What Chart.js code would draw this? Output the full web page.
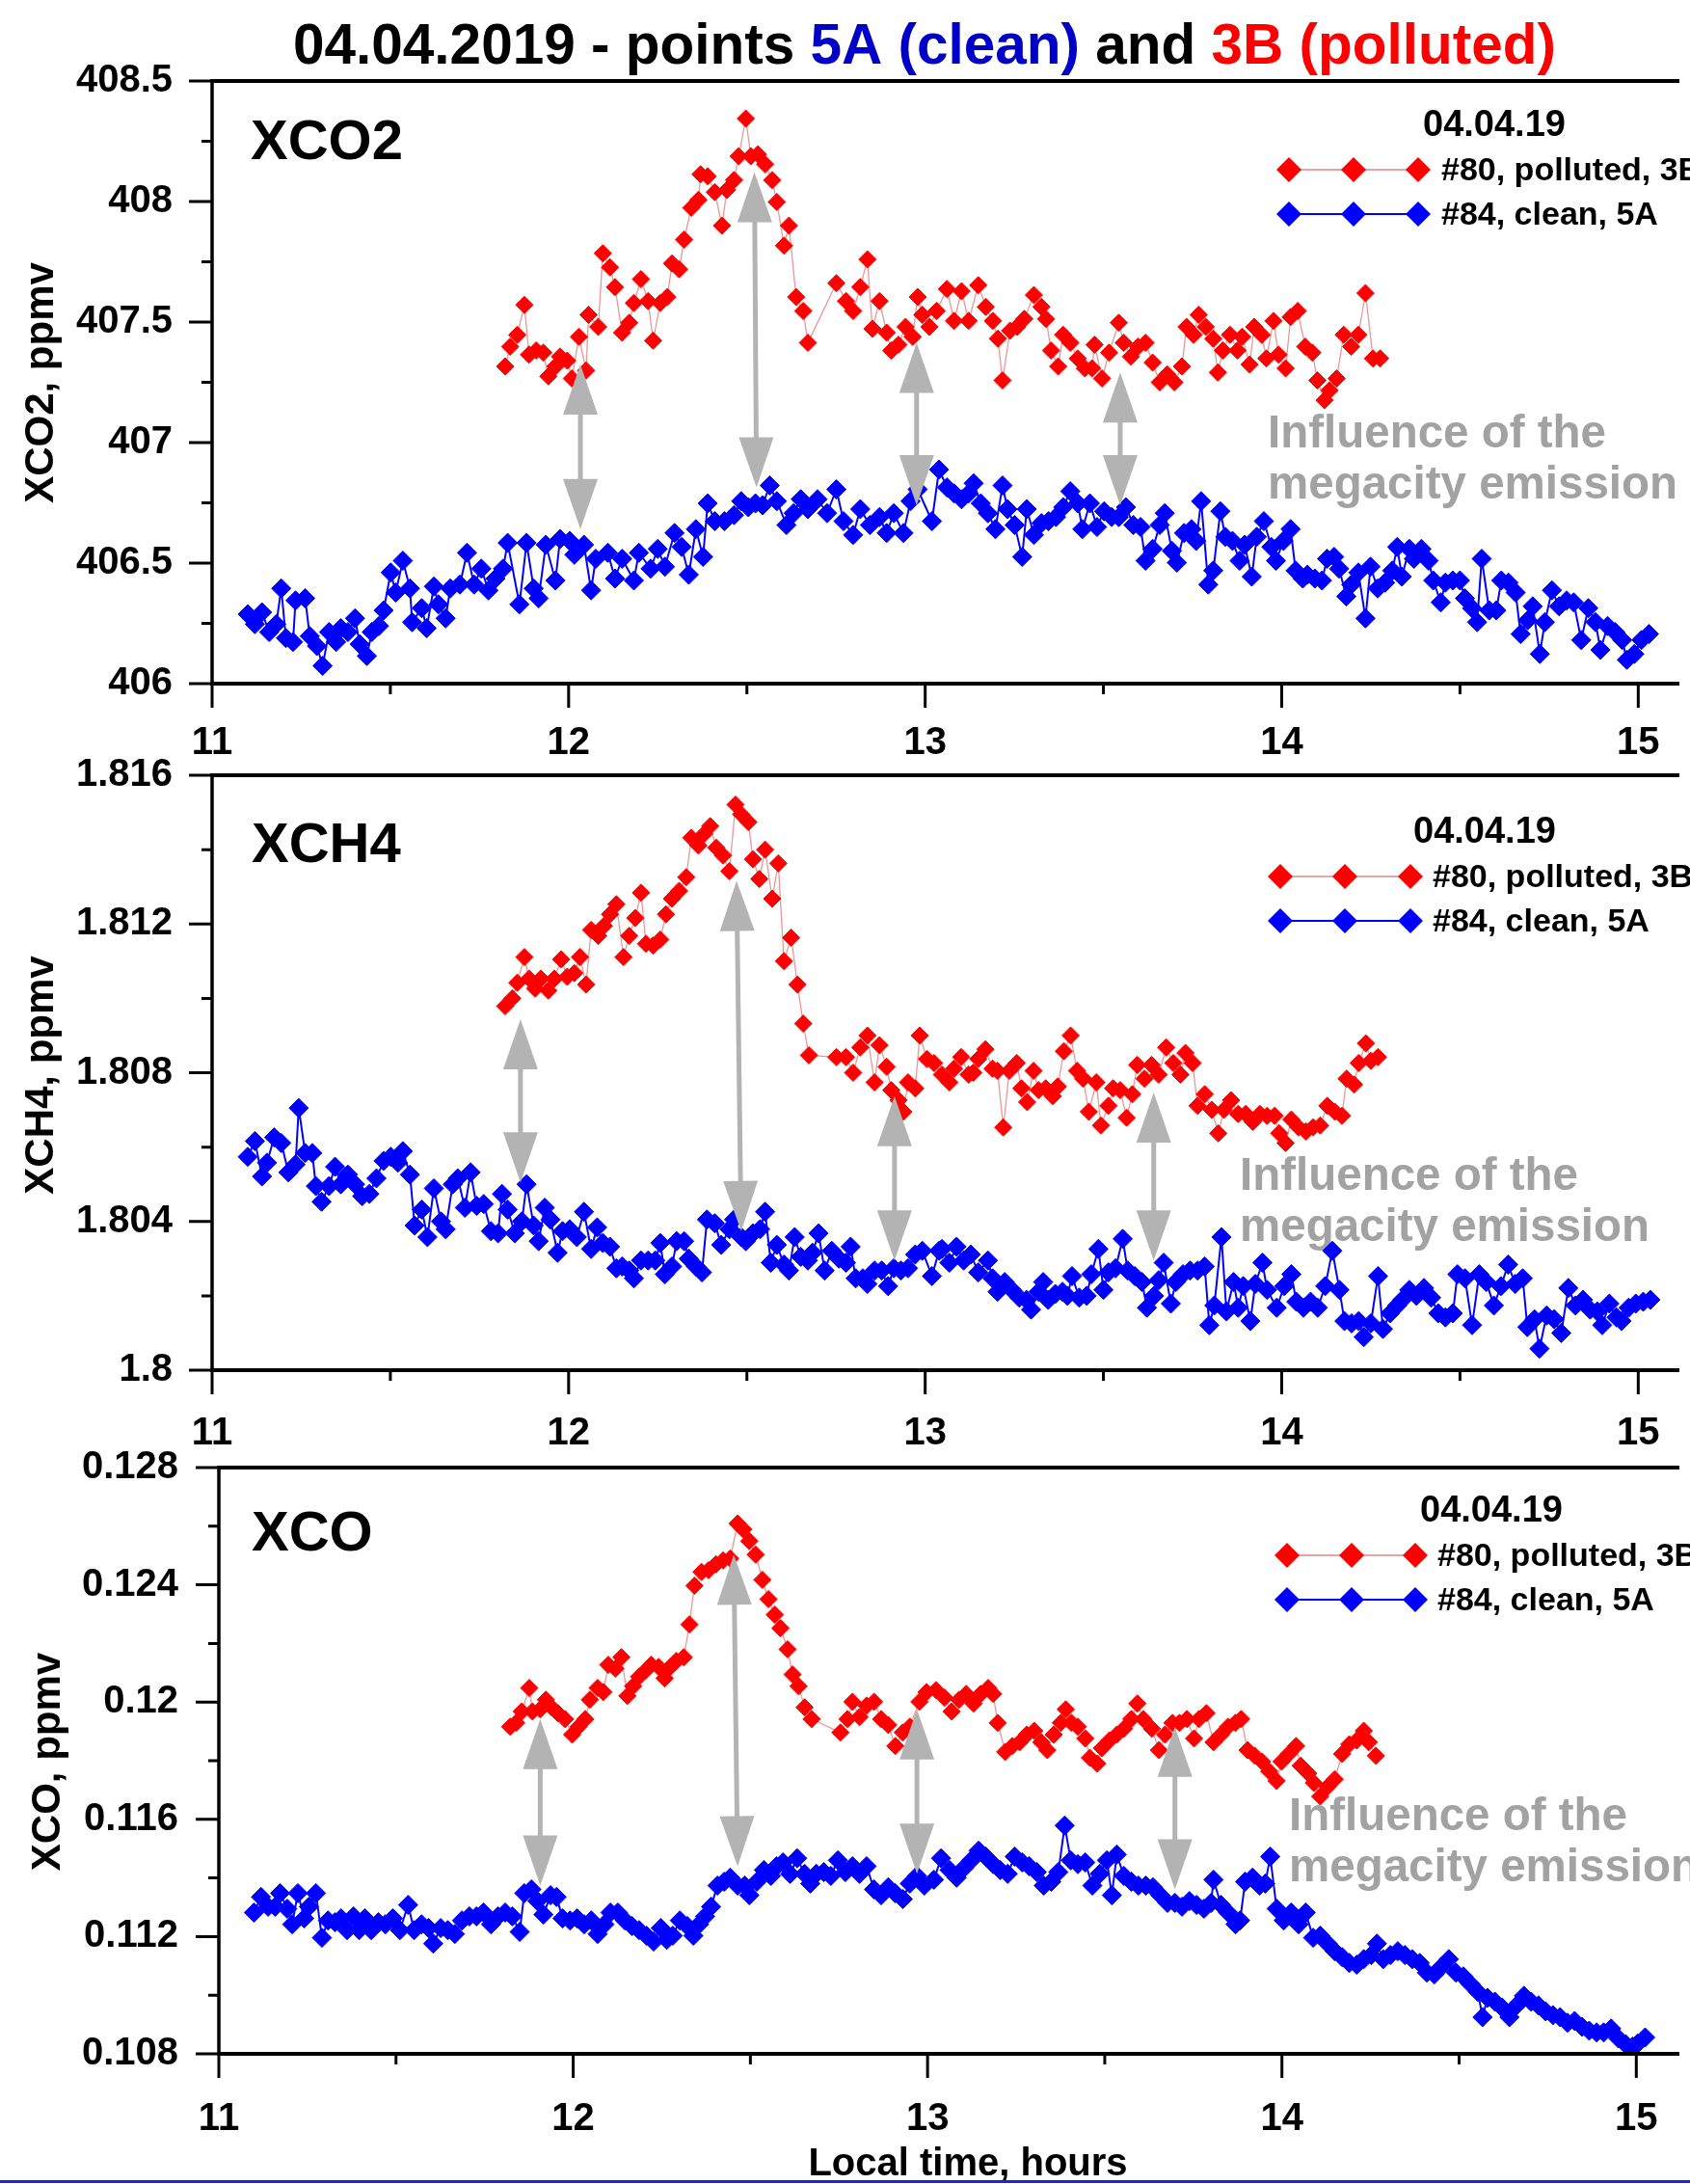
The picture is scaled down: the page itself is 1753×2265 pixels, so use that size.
<!DOCTYPE html>
<html>
<head>
<meta charset="utf-8">
<script src="https://cdn.jsdelivr.net/npm/chart.js@4/dist/chart.umd.min.js"></script>
<style>
  html, body { margin: 0; padding: 0; background: #fff; }
  #wrap { position: relative; width: 1753px; height: 2265px; overflow: hidden; background: #fff; }
  canvas { position: absolute; left: 0; }
</style>
</head>
<body>
<div id="wrap">
  <canvas id="c1" width="1753" height="782" style="top:0px"></canvas>
  <canvas id="c2" width="1753" height="718" style="top:782px"></canvas>
  <canvas id="c3" width="1753" height="765" style="top:1500px"></canvas>
</div>
<script>
'use strict';

// ---- data: [local time (h), value (ppmv)] ----
var co2Clean = [[11.100,406.288],[11.120,406.247],[11.140,406.296],[11.160,406.214],[11.180,406.247],[11.194,406.395],[11.207,406.189],[11.227,406.173],[11.234,406.345],[11.261,406.354],[11.274,406.197],[11.294,406.156],[11.310,406.074],[11.328,406.214],[11.348,406.173],[11.361,406.230],[11.381,406.214],[11.401,406.271],[11.414,406.164],[11.434,406.115],[11.448,406.214],[11.468,406.239],[11.481,406.304],[11.501,406.461],[11.515,406.378],[11.535,406.510],[11.555,406.395],[11.561,406.255],[11.588,406.313],[11.602,406.230],[11.622,406.403],[11.635,406.329],[11.655,406.271],[11.668,406.395],[11.695,406.411],[11.715,406.543],[11.735,406.411],[11.755,406.477],[11.775,406.387],[11.795,406.436],[11.816,406.477],[11.829,406.584],[11.862,406.329],[11.882,406.584],[11.902,406.395],[11.916,406.354],[11.936,406.576],[11.963,406.428],[11.976,406.600],[12.003,406.592],[12.016,406.535],[12.043,406.576],[12.063,406.387],[12.076,406.518],[12.110,406.543],[12.130,406.436],[12.150,406.518],[12.183,406.428],[12.197,406.543],[12.230,406.477],[12.250,406.559],[12.270,406.485],[12.297,406.625],[12.317,406.567],[12.337,406.452],[12.357,406.641],[12.377,406.526],[12.390,406.748],[12.410,406.674],[12.437,406.674],[12.464,406.699],[12.484,406.757],[12.504,406.732],[12.524,406.748],[12.544,406.740],[12.564,406.822],[12.584,406.757],[12.611,406.658],[12.631,406.707],[12.651,406.765],[12.671,406.724],[12.698,406.765],[12.725,406.707],[12.751,406.806],[12.771,406.674],[12.798,406.617],[12.818,406.724],[12.845,406.658],[12.872,406.691],[12.892,406.625],[12.912,406.707],[12.939,406.625],[12.959,406.757],[12.979,406.806],[13.019,406.674],[13.039,406.888],
  [13.061,406.814],[13.081,406.789],[13.102,406.765],[13.122,406.789],[13.136,406.831],[13.156,406.748],[13.176,406.707],[13.197,406.641],[13.217,406.822],[13.231,406.724],[13.251,406.658],[13.272,406.526],[13.285,406.724],[13.305,406.617],[13.326,406.666],[13.346,406.674],[13.367,406.691],[13.387,406.732],[13.407,406.798],[13.428,406.748],[13.441,406.641],[13.462,406.748],[13.482,406.650],[13.502,406.715],[13.523,406.691],[13.543,406.691],[13.563,406.732],[13.584,406.658],[13.604,406.650],[13.618,406.510],[13.638,406.559],[13.658,406.658],[13.672,406.707],[13.692,406.551],[13.706,406.502],[13.726,406.625],[13.747,406.641],[13.760,406.592],[13.774,406.757],[13.794,406.411],[13.808,406.469],[13.828,406.715],[13.842,406.609],[13.862,406.592],[13.882,406.510],[13.896,406.576],[13.916,406.444],[13.930,406.609],[13.950,406.674],[13.971,406.567],[13.984,406.510],[14.005,406.592],[14.025,406.641],[14.039,406.469],[14.059,406.436],[14.072,406.452],[14.093,406.436],[14.113,406.428],[14.127,406.518],[14.147,406.526],[14.161,406.477],[14.181,406.362],[14.195,406.411],[14.215,406.461],[14.235,406.271],[14.249,406.485],[14.269,406.395],[14.290,406.419],[14.310,406.469],[14.324,406.567],[14.337,406.444],[14.358,406.559],[14.371,406.518],[14.392,406.559],[14.412,406.510],[14.425,406.428],[14.446,406.337],[14.459,406.419],[14.480,406.428],[14.500,406.428],[14.514,406.354],[14.534,406.313],[14.548,406.255],[14.561,406.518],[14.582,406.304],[14.602,406.304],[14.616,406.428],[14.636,406.419],[14.656,406.378],[14.670,406.206],[14.690,406.263],[14.704,406.321],[14.724,406.123],[14.738,406.255],[14.758,406.387],[14.778,406.321],[14.799,406.345],[14.819,406.337],[14.840,406.181],[14.860,406.313],[14.880,406.255],[14.894,406.140],[14.914,406.239],[14.935,406.214],[14.955,406.181],[14.968,406.099],[14.989,406.123],[15.009,406.181],[15.030,406.206]];

var co2Polluted = [[11.822,407.316],[11.836,407.398],[11.856,407.447],[11.876,407.571],[11.889,407.365],[11.909,407.382],[11.929,407.373],[11.943,407.275],[11.963,407.316],[11.976,407.357],[11.996,407.340],[12.009,407.266],[12.029,407.439],[12.049,407.299],[12.056,407.530],[12.083,407.480],[12.096,407.785],[12.116,407.727],[12.130,407.645],[12.150,407.456],[12.170,407.497],[12.183,407.579],[12.203,407.678],[12.223,407.587],[12.237,407.423],[12.257,407.579],[12.277,407.604],[12.290,407.743],[12.310,407.719],[12.324,407.842],[12.344,407.974],[12.364,408.007],[12.370,408.113],[12.390,408.105],[12.410,408.039],[12.430,407.900],[12.444,408.048],[12.464,408.089],[12.477,408.188],[12.497,408.344],[12.511,408.188],[12.531,408.196],[12.551,408.155],[12.571,408.089],[12.584,407.998],[12.604,407.817],[12.618,407.900],[12.638,407.604],[12.658,407.546],[12.671,407.414],[12.751,407.661],[12.778,407.587],[12.798,407.546],[12.818,407.645],[12.838,407.760],[12.852,407.472],[12.872,407.587],[12.892,407.456],[12.905,407.382],[12.925,407.406],[12.945,407.480],[12.965,407.439],[12.979,407.604],[12.992,407.530],[13.012,407.480],[13.032,407.546],
  [13.061,407.637],[13.081,407.505],[13.102,407.628],[13.122,407.505],[13.149,407.653],[13.170,407.563],[13.190,407.505],[13.204,407.431],[13.217,407.258],[13.238,407.464],[13.258,407.480],[13.278,407.513],[13.305,407.612],[13.326,407.563],[13.339,407.513],[13.353,407.382],[13.373,407.316],[13.387,407.447],[13.407,407.414],[13.428,407.349],[13.448,407.308],[13.468,407.308],[13.475,407.406],[13.496,407.266],[13.516,407.373],[13.543,407.497],[13.557,407.414],[13.577,407.357],[13.597,407.398],[13.618,407.414],[13.638,407.332],[13.658,407.250],[13.679,407.283],[13.699,407.250],[13.720,407.316],[13.733,407.480],[13.753,407.447],[13.767,407.530],[13.787,407.480],[13.808,407.431],[13.821,407.291],[13.835,407.382],[13.855,407.447],[13.876,407.382],[13.889,407.439],[13.910,407.324],[13.923,407.480],[13.944,407.447],[13.957,407.349],[13.977,407.505],[13.991,407.365],[14.011,407.308],[14.025,407.521],[14.045,407.546],[14.066,407.398],[14.086,407.373],[14.100,407.258],[14.120,407.176],[14.134,407.217],[14.154,407.266],[14.174,407.447],[14.195,407.398],[14.215,407.447],[14.235,407.620],[14.256,407.349],[14.276,407.349]];

var ch4Clean = [[11.100,1.80574],[11.120,1.80616],[11.140,1.80521],[11.154,1.80558],[11.174,1.80626],[11.194,1.80611],[11.214,1.80532],[11.234,1.80553],[11.243,1.80705],[11.261,1.80584],[11.281,1.80584],[11.291,1.80495],[11.307,1.80453],[11.328,1.80495],[11.345,1.80547],[11.361,1.80500],[11.381,1.80526],[11.401,1.80500],[11.421,1.80468],[11.441,1.80474],[11.461,1.80516],[11.481,1.80563],[11.501,1.80574],[11.521,1.80558],[11.535,1.80589],[11.555,1.80526],[11.568,1.80389],[11.588,1.80432],[11.604,1.80358],[11.622,1.80489],[11.642,1.80400],[11.655,1.80379],[11.675,1.80500],[11.689,1.80516],[11.709,1.80437],[11.725,1.80532],[11.742,1.80442],[11.762,1.80447],[11.782,1.80374],[11.802,1.80368],[11.813,1.80474],[11.829,1.80432],[11.849,1.80368],[11.869,1.80400],[11.882,1.80500],[11.902,1.80389],[11.916,1.80347],[11.933,1.80437],[11.949,1.80405],[11.969,1.80316],[11.983,1.80374],[12.003,1.80379],[12.023,1.80358],[12.043,1.80426],[12.063,1.80326],[12.080,1.80384],[12.096,1.80342],[12.116,1.80332],[12.134,1.80274],[12.150,1.80279],[12.170,1.80268],[12.183,1.80247],[12.203,1.80295],[12.223,1.80295],[12.243,1.80295],[12.257,1.80342],[12.270,1.80258],[12.290,1.80279],[12.303,1.80347],[12.324,1.80347],[12.337,1.80300],[12.357,1.80279],[12.374,1.80263],[12.388,1.80405],[12.410,1.80395],[12.428,1.80337],[12.451,1.80379],[12.464,1.80405],[12.484,1.80358],[12.497,1.80347],[12.517,1.80368],[12.537,1.80379],[12.551,1.80426],[12.567,1.80289],[12.584,1.80337],[12.604,1.80284],[12.618,1.80268],[12.634,1.80358],[12.651,1.80305],[12.671,1.80295],[12.684,1.80316],[12.701,1.80368],[12.718,1.80268],[12.738,1.80321],[12.758,1.80300],[12.778,1.80289],[12.791,1.80332],[12.805,1.80247],[12.825,1.80247],[12.838,1.80232],[12.858,1.80268],[12.878,1.80268],[12.896,1.80226],[12.912,1.80274],[12.932,1.80268],[12.952,1.80274],[12.972,1.80311],[12.992,1.80321],[13.019,1.80253],[13.039,1.80321],
  [13.047,1.80326],[13.068,1.80289],[13.088,1.80332],[13.108,1.80295],[13.128,1.80311],[13.149,1.80263],[13.176,1.80295],[13.189,1.80247],[13.203,1.80211],[13.223,1.80237],[13.243,1.80216],[13.264,1.80195],[13.284,1.80189],[13.297,1.80163],[13.318,1.80211],[13.331,1.80237],[13.345,1.80189],[13.365,1.80205],[13.385,1.80211],[13.399,1.80200],[13.412,1.80253],[13.432,1.80195],[13.453,1.80200],[13.466,1.80258],[13.486,1.80326],[13.500,1.80216],[13.514,1.80263],[13.534,1.80274],[13.554,1.80353],[13.568,1.80268],[13.588,1.80253],[13.608,1.80237],[13.622,1.80168],[13.642,1.80200],[13.655,1.80242],[13.669,1.80289],[13.689,1.80179],[13.703,1.80237],[13.723,1.80258],[13.743,1.80268],[13.764,1.80268],[13.784,1.80279],[13.797,1.80121],[13.811,1.80174],[13.831,1.80358],[13.845,1.80158],[13.865,1.80237],[13.878,1.80168],[13.892,1.80226],[13.912,1.80132],[13.926,1.80232],[13.946,1.80289],[13.959,1.80216],[13.986,1.80168],[14.007,1.80226],[14.027,1.80258],[14.041,1.80184],[14.061,1.80168],[14.081,1.80184],[14.101,1.80168],[14.122,1.80226],[14.142,1.80321],[14.162,1.80216],[14.176,1.80132],[14.196,1.80126],[14.216,1.80132],[14.230,1.80089],[14.250,1.80126],[14.270,1.80253],[14.284,1.80111],[14.304,1.80153],[14.324,1.80174],[14.338,1.80189],[14.358,1.80216],[14.378,1.80200],[14.399,1.80221],[14.419,1.80195],[14.439,1.80153],[14.459,1.80142],[14.480,1.80153],[14.493,1.80258],[14.514,1.80247],[14.534,1.80121],[14.554,1.80258],[14.574,1.80237],[14.595,1.80174],[14.615,1.80226],[14.635,1.80284],[14.655,1.80232],[14.676,1.80247],[14.689,1.80116],[14.709,1.80137],[14.723,1.80058],[14.743,1.80147],[14.764,1.80137],[14.784,1.80100],[14.804,1.80221],[14.824,1.80174],[14.845,1.80189],[14.865,1.80163],[14.885,1.80158],[14.899,1.80121],[14.919,1.80179],[14.939,1.80142],[14.953,1.80132],[14.973,1.80168],[14.993,1.80179],[15.014,1.80184],[15.034,1.80189]];

var ch4Polluted = [[11.822,1.80979],[11.842,1.81000],[11.856,1.81042],[11.876,1.81111],[11.889,1.81053],[11.906,1.81026],[11.922,1.81053],[11.943,1.81021],[11.960,1.81053],[11.979,1.81105],[11.996,1.81058],[12.016,1.81068],[12.032,1.81111],[12.049,1.81037],[12.063,1.81184],[12.083,1.81168],[12.099,1.81195],[12.116,1.81226],[12.134,1.81253],[12.154,1.81111],[12.170,1.81168],[12.187,1.81216],[12.203,1.81284],[12.217,1.81147],[12.237,1.81142],[12.257,1.81158],[12.273,1.81226],[12.290,1.81268],[12.310,1.81289],[12.330,1.81326],[12.344,1.81432],[12.364,1.81411],[12.380,1.81442],[12.397,1.81463],[12.414,1.81405],[12.433,1.81384],[12.451,1.81342],[12.468,1.81521],[12.484,1.81495],[12.504,1.81474],[12.517,1.81374],[12.535,1.81321],[12.551,1.81400],[12.571,1.81268],[12.588,1.81363],[12.604,1.81100],[12.624,1.81163],[12.642,1.81037],[12.658,1.80932],[12.674,1.80847],[12.751,1.80842],[12.778,1.80842],[12.798,1.80800],[12.818,1.80868],[12.838,1.80900],[12.858,1.80774],[12.872,1.80874],[12.892,1.80816],[12.905,1.80753],[12.925,1.80726],[12.939,1.80695],[12.952,1.80774],[12.972,1.80758],[12.985,1.80900],[13.005,1.80837],[13.025,1.80826],
  [13.047,1.80795],[13.068,1.80774],[13.081,1.80811],[13.101,1.80842],[13.122,1.80795],[13.135,1.80800],[13.149,1.80837],[13.169,1.80863],[13.189,1.80811],[13.203,1.80805],[13.219,1.80653],[13.236,1.80805],[13.257,1.80826],[13.270,1.80758],[13.286,1.80721],[13.304,1.80805],[13.318,1.80753],[13.338,1.80758],[13.358,1.80737],[13.372,1.80763],[13.389,1.80858],[13.408,1.80900],[13.426,1.80805],[13.443,1.80784],[13.459,1.80695],[13.480,1.80774],[13.493,1.80658],[13.514,1.80711],[13.527,1.80758],[13.547,1.80753],[13.565,1.80679],[13.581,1.80742],[13.595,1.80821],[13.615,1.80784],[13.635,1.80821],[13.655,1.80795],[13.676,1.80868],[13.696,1.80826],[13.716,1.80795],[13.730,1.80853],[13.750,1.80826],[13.764,1.80711],[13.784,1.80742],[13.804,1.80700],[13.822,1.80637],[13.838,1.80700],[13.858,1.80726],[13.878,1.80689],[13.899,1.80689],[13.919,1.80668],[13.939,1.80689],[13.959,1.80684],[13.980,1.80684],[13.993,1.80637],[14.011,1.80611],[14.027,1.80674],[14.047,1.80653],[14.068,1.80642],[14.088,1.80653],[14.108,1.80658],[14.128,1.80711],[14.149,1.80695],[14.169,1.80684],[14.182,1.80784],[14.203,1.80768],[14.216,1.80826],[14.236,1.80879],[14.250,1.80832],[14.270,1.80842]];

var coClean = [[11.099,0.11282],[11.119,0.11335],[11.139,0.11302],[11.159,0.11302],[11.173,0.11348],[11.193,0.11295],[11.207,0.11242],[11.223,0.11348],[11.241,0.11262],[11.254,0.11302],[11.274,0.11348],[11.291,0.11196],[11.308,0.11255],[11.328,0.11249],[11.345,0.11262],[11.362,0.11222],[11.380,0.11269],[11.396,0.11222],[11.412,0.11262],[11.430,0.11222],[11.450,0.11249],[11.470,0.11242],[11.491,0.11262],[11.511,0.11222],[11.534,0.11308],[11.551,0.11222],[11.572,0.11242],[11.592,0.11229],[11.605,0.11176],[11.626,0.11229],[11.646,0.11222],[11.666,0.11209],[11.686,0.11255],[11.707,0.11269],[11.727,0.11269],[11.747,0.11282],[11.768,0.11242],[11.788,0.11269],[11.808,0.11282],[11.828,0.11269],[11.849,0.11216],[11.862,0.11348],[11.882,0.11361],[11.899,0.11321],[11.916,0.11275],[11.936,0.11341],[11.953,0.11335],[11.970,0.11262],[11.991,0.11255],[12.011,0.11262],[12.031,0.11242],[12.051,0.11255],[12.069,0.11209],[12.088,0.11242],[12.105,0.11282],[12.126,0.11282],[12.146,0.11255],[12.166,0.11236],[12.186,0.11222],[12.207,0.11203],[12.227,0.11183],[12.247,0.11229],[12.264,0.11189],[12.281,0.11203],[12.301,0.11255],[12.322,0.11236],[12.339,0.11203],[12.355,0.11242],[12.372,0.11269],[12.389,0.11302],[12.407,0.11374],[12.426,0.11387],[12.443,0.11401],[12.464,0.11374],[12.484,0.11374],[12.497,0.11341],[12.518,0.11387],[12.538,0.11427],[12.558,0.11407],[12.574,0.11440],[12.592,0.11453],[12.612,0.11414],[12.632,0.11467],[12.653,0.11414],[12.669,0.11381],[12.686,0.11414],[12.707,0.11420],[12.727,0.11407],[12.747,0.11460],[12.768,0.11420],[12.788,0.11440],[12.808,0.11414],[12.828,0.11440],[12.849,0.11361],[12.869,0.11341],[12.889,0.11368],[12.909,0.11348],[12.930,0.11328],[12.950,0.11381],[12.970,0.11407],[12.991,0.11374],[13.018,0.11394],[13.038,0.11467],
  [13.062,0.11427],[13.082,0.11401],[13.103,0.11434],[13.123,0.11460],[13.144,0.11493],[13.164,0.11473],[13.185,0.11447],[13.205,0.11427],[13.226,0.11414],[13.246,0.11473],[13.267,0.11453],[13.287,0.11440],[13.308,0.11420],[13.328,0.11374],[13.349,0.11387],[13.369,0.11420],[13.387,0.11579],[13.404,0.11460],[13.424,0.11447],[13.445,0.11453],[13.465,0.11374],[13.486,0.11414],[13.506,0.11460],[13.520,0.11341],[13.534,0.11480],[13.554,0.11407],[13.575,0.11387],[13.595,0.11374],[13.616,0.11374],[13.636,0.11368],[13.657,0.11341],[13.677,0.11315],[13.698,0.11315],[13.718,0.11302],[13.739,0.11321],[13.759,0.11308],[13.780,0.11295],[13.800,0.11315],[13.807,0.11394],[13.828,0.11308],[13.848,0.11282],[13.869,0.11242],[13.882,0.11255],[13.896,0.11387],[13.917,0.11401],[13.937,0.11374],[13.953,0.11381],[13.967,0.11473],[13.985,0.11295],[14.005,0.11255],[14.026,0.11282],[14.047,0.11242],[14.067,0.11282],[14.088,0.11196],[14.108,0.11203],[14.129,0.11176],[14.149,0.11150],[14.170,0.11130],[14.190,0.11110],[14.211,0.11104],[14.231,0.11123],[14.252,0.11137],[14.268,0.11176],[14.286,0.11123],[14.306,0.11137],[14.327,0.11150],[14.347,0.11137],[14.368,0.11123],[14.389,0.11110],[14.409,0.11077],[14.430,0.11071],[14.450,0.11097],[14.471,0.11123],[14.491,0.11077],[14.512,0.11064],[14.532,0.11038],[14.553,0.11011],[14.566,0.10925],[14.580,0.10991],[14.601,0.10978],[14.621,0.10958],[14.642,0.10925],[14.662,0.10965],[14.683,0.10998],[14.703,0.10978],[14.724,0.10965],[14.744,0.10945],[14.765,0.10932],[14.785,0.10925],[14.806,0.10906],[14.826,0.10912],[14.847,0.10892],[14.867,0.10879],[14.888,0.10873],[14.908,0.10873],[14.929,0.10886],[14.949,0.10853],[14.970,0.10833],[14.990,0.10825],[15.004,0.10835],[15.025,0.10856]];

var coPolluted = [[11.822,0.11916],[11.839,0.11929],[11.855,0.11968],[11.876,0.12048],[11.885,0.11968],[11.907,0.11975],[11.923,0.12008],[11.939,0.11982],[11.957,0.11962],[11.977,0.11942],[11.997,0.11889],[12.015,0.11916],[12.034,0.11942],[12.047,0.12008],[12.069,0.12048],[12.085,0.12034],[12.099,0.12127],[12.119,0.12114],[12.136,0.12153],[12.153,0.12021],[12.169,0.12054],[12.186,0.12087],[12.204,0.12107],[12.220,0.12127],[12.241,0.12120],[12.258,0.12081],[12.274,0.12120],[12.291,0.12140],[12.312,0.12153],[12.328,0.12265],[12.342,0.12397],[12.362,0.12444],[12.382,0.12450],[12.403,0.12470],[12.423,0.12483],[12.443,0.12490],[12.464,0.12609],[12.480,0.12589],[12.497,0.12549],[12.515,0.12503],[12.534,0.12417],[12.551,0.12351],[12.569,0.12298],[12.585,0.12252],[12.605,0.12180],[12.619,0.12094],[12.636,0.12054],[12.653,0.11982],[12.673,0.11942],[12.754,0.11896],[12.774,0.11942],[12.788,0.12001],[12.808,0.11949],[12.828,0.11988],[12.849,0.12001],[12.869,0.11942],[12.889,0.11922],[12.909,0.11850],[12.930,0.11896],[12.950,0.11916],[12.977,0.12001],[12.997,0.12034],[13.024,0.12041],
  [13.048,0.12015],[13.068,0.11968],[13.089,0.12008],[13.109,0.12028],[13.130,0.11995],[13.150,0.12028],[13.171,0.12048],[13.185,0.12028],[13.198,0.11929],[13.219,0.11830],[13.239,0.11850],[13.260,0.11863],[13.280,0.11889],[13.301,0.11902],[13.321,0.11863],[13.338,0.11836],[13.356,0.11889],[13.376,0.11929],[13.390,0.11975],[13.406,0.11929],[13.424,0.11916],[13.445,0.11876],[13.458,0.11810],[13.479,0.11790],[13.492,0.11843],[13.513,0.11869],[13.534,0.11889],[13.554,0.11909],[13.575,0.11942],[13.592,0.11995],[13.609,0.11942],[13.633,0.11909],[13.653,0.11836],[13.670,0.11889],[13.691,0.11929],[13.711,0.11929],[13.732,0.11942],[13.752,0.11876],[13.766,0.11942],[13.787,0.11962],[13.807,0.11863],[13.828,0.11889],[13.848,0.11916],[13.869,0.11929],[13.885,0.11942],[13.903,0.11836],[13.923,0.11817],[13.944,0.11797],[13.964,0.11764],[13.985,0.11731],[13.999,0.11797],[14.019,0.11823],[14.040,0.11850],[14.053,0.11783],[14.074,0.11757],[14.090,0.11724],[14.108,0.11678],[14.129,0.11711],[14.149,0.11737],[14.170,0.11823],[14.190,0.11856],[14.211,0.11869],[14.231,0.11902],[14.245,0.11863],[14.265,0.11817]];

// double arrows: [x top, y top, x bottom, y bottom]
var co2Arrows = [[12.033,407.324,12.033,406.641],[12.521,408.122,12.527,406.814],[12.976,407.414,12.976,406.740],[13.547,407.291,13.547,406.740]];
var ch4Arrows = [[11.865,1.80944,11.865,1.80505],[12.471,1.81316,12.484,1.80374],[12.914,1.80737,12.914,1.80295],[13.641,1.80747,13.641,1.80295]];
var coArrows = [[11.907,0.11942,11.907,0.11374],[12.453,0.12503,12.464,0.11440],[12.970,0.11975,12.970,0.11414],[13.698,0.11916,13.698,0.11361]];

// ticks
var xMajor = [11, 12, 13, 14, 15];
var xMinor = [11.5, 12.5, 13.5, 14.5];
var co2Major = [406, 406.5, 407, 407.5, 408, 408.5];
var co2Minor = [406.25, 406.75, 407.25, 407.75, 408.25];
var ch4Major = [1.8, 1.804, 1.808, 1.812, 1.816];
var ch4Minor = [1.802, 1.806, 1.81, 1.814];
var coMajor = [0.108, 0.112, 0.116, 0.12, 0.124, 0.128];
var coMinor = [0.11, 0.114, 0.118, 0.122, 0.126];

var FONT = '"Liberation Sans", Arial, sans-serif';
var RED = '#ff0000';
var BLUE = '#0000ff';
var GREY = '#b3b3b3';

function toXY(arr) {
  return arr.map(function (p) { return { x: p[0], y: p[1] }; });
}

function diamond(ctx, x, y, r, color) {
  ctx.beginPath();
  ctx.moveTo(x - r, y);
  ctx.lineTo(x, y - r);
  ctx.lineTo(x + r, y);
  ctx.lineTo(x, y + r);
  ctx.closePath();
  ctx.fillStyle = color;
  ctx.fill();
}

function arrowHead(ctx, tx, ty, ux, uy) {
  var hl = 52, hw = 18;
  var bx = tx + ux * hl, by = ty + uy * hl;
  ctx.beginPath();
  ctx.moveTo(tx, ty);
  ctx.lineTo(bx - uy * hw, by + ux * hw);
  ctx.lineTo(bx + uy * hw, by - ux * hw);
  ctx.closePath();
  ctx.fill();
}

function makeDecor(p) {
  return {
    id: 'decor',
    beforeDatasetsDraw: function (chart) {
      var ctx = chart.ctx;
      ctx.save();
      ctx.textAlign = 'left';
      ctx.textBaseline = 'alphabetic';
      // panel name
      ctx.fillStyle = '#000';
      ctx.font = 'bold 58px ' + FONT;
      ctx.fillText(p.name, p.labelX, p.labelY);
      // note
      ctx.fillStyle = '#a2a2a2';
      ctx.font = 'bold 47.5px ' + FONT;
      ctx.fillText('Influence of the', p.noteX, p.noteY);
      ctx.fillText('megacity emission', p.noteX, p.noteY + 53);
      // legend
      ctx.fillStyle = '#000';
      ctx.font = 'bold 38px ' + FONT;
      ctx.fillText('04.04.19', p.legX, p.legY);
      var mk = p.legMk;
      ctx.lineWidth = 2;
      ctx.strokeStyle = '#e9a3a3';
      ctx.beginPath(); ctx.moveTo(mk[0], p.legRed); ctx.lineTo(mk[2], p.legRed); ctx.stroke();
      ctx.strokeStyle = BLUE;
      ctx.beginPath(); ctx.moveTo(mk[0], p.legBlue); ctx.lineTo(mk[2], p.legBlue); ctx.stroke();
      mk.forEach(function (x) {
        diamond(ctx, x, p.legRed, 13, RED);
        diamond(ctx, x, p.legBlue, 13, BLUE);
      });
      ctx.fillStyle = '#000';
      ctx.font = 'bold 34px ' + FONT;
      ctx.textBaseline = 'middle';
      ctx.fillText('#80, polluted, 3B', p.legTextX, p.legRed + 2);
      ctx.fillText('#84, clean, 5A', p.legTextX, p.legBlue + 2);
      // y title
      ctx.save();
      ctx.translate(p.yTitleX, p.yTitleY);
      ctx.rotate(-Math.PI / 2);
      ctx.textAlign = 'center';
      ctx.font = 'bold 42px ' + FONT;
      ctx.fillText(p.yTitle, 0, 0);
      ctx.restore();
      ctx.restore();
    },
    afterDatasetsDraw: function (chart) {
      var ctx = chart.ctx;
      var xs = chart.scales.x, ys = chart.scales.y;
      ctx.save();
      ctx.fillStyle = GREY;
      ctx.strokeStyle = GREY;
      ctx.lineWidth = 5;
      p.arrows.forEach(function (a) {
        var x1 = xs.getPixelForValue(a[0]), y1 = ys.getPixelForValue(a[1]);
        var x2 = xs.getPixelForValue(a[2]), y2 = ys.getPixelForValue(a[3]);
        var len = Math.hypot(x2 - x1, y2 - y1);
        var ux = (x2 - x1) / len, uy = (y2 - y1) / len;
        ctx.beginPath();
        ctx.moveTo(x1 + ux * 45, y1 + uy * 45);
        ctx.lineTo(x2 - ux * 45, y2 - uy * 45);
        ctx.stroke();
        arrowHead(ctx, x1, y1, ux, uy);
        arrowHead(ctx, x2, y2, -ux, -uy);
      });
      ctx.restore();
    },
    afterDraw: function (chart) {
      var ctx = chart.ctx;
      var xs = chart.scales.x, ys = chart.scales.y, a = chart.chartArea;
      ctx.save();
      ctx.strokeStyle = '#000';
      ctx.lineCap = 'butt';
      ctx.lineWidth = 4;
      ctx.beginPath();
      ctx.moveTo(a.left, a.top); ctx.lineTo(a.right, a.top);
      ctx.moveTo(a.left, a.bottom); ctx.lineTo(a.right, a.bottom);
      ctx.stroke();
      ctx.lineWidth = 3.5;
      ctx.beginPath();
      ctx.moveTo(a.left, a.top - 2); ctx.lineTo(a.left, a.bottom + 2);
      ctx.stroke();
      ctx.lineWidth = 3;
      ctx.beginPath();
      p.yMajor.forEach(function (v) {
        var y = ys.getPixelForValue(v);
        ctx.moveTo(a.left - 24, y); ctx.lineTo(a.left, y);
      });
      p.yMinor.forEach(function (v) {
        var y = ys.getPixelForValue(v);
        ctx.moveTo(a.left - 11, y); ctx.lineTo(a.left, y);
      });
      xMajor.forEach(function (v) {
        var x = xs.getPixelForValue(v);
        ctx.moveTo(x, a.bottom); ctx.lineTo(x, a.bottom + 25);
      });
      xMinor.forEach(function (v) {
        var x = xs.getPixelForValue(v);
        ctx.moveTo(x, a.bottom); ctx.lineTo(x, a.bottom + 11);
      });
      ctx.stroke();
      if (p.extra) p.extra(ctx);
      ctx.restore();
    }
  };
}

function makeChart(id, p) {
  return new Chart(document.getElementById(id), {
    type: 'line',
    data: {
      datasets: [{
        data: toXY(p.clean),
        borderColor: BLUE,
        borderWidth: 2,
        backgroundColor: BLUE,
        pointStyle: 'rectRot',
        pointRadius: 10,
        pointBorderColor: BLUE,
        pointBorderWidth: 1
      }, {
        data: toXY(p.polluted),
        borderColor: 'rgba(232,140,140,0.9)',
        borderWidth: 1.3,
        backgroundColor: RED,
        pointStyle: 'rectRot',
        pointRadius: 9,
        pointBorderColor: RED,
        pointBorderWidth: 1
      }]
    },
    options: {
      responsive: false,
      animation: false,
      events: [],
      layout: { padding: { top: p.top, left: 0, right: 0, bottom: 0 } },
      plugins: { legend: { display: false }, tooltip: { enabled: false }, title: { display: false } },
      scales: {
        x: {
          type: 'linear', min: 11, max: p.xMax,
          grid: { display: false, drawTicks: false },
          border: { display: false },
          afterBuildTicks: function (s) { s.ticks = xMajor.map(function (v) { return { value: v }; }); },
          afterFit: function (s) { s.height = p.xHeight; s.paddingLeft = 0; s.paddingRight = 0; },
          ticks: {
            padding: p.xPad, color: '#000', autoSkip: false, maxRotation: 0,
            font: { family: FONT, size: 40, weight: 'bold' }
          }
        },
        y: {
          type: 'linear', min: p.yMin, max: p.yMax,
          grid: { display: false, drawTicks: false },
          border: { display: false },
          afterBuildTicks: function (s) { s.ticks = p.yMajor.map(function (v) { return { value: v }; }); },
          afterFit: function (s) { s.width = p.left; s.paddingTop = 0; s.paddingBottom = 0; },
          ticks: {
            padding: p.yPad, color: '#000', autoSkip: false,
            font: { family: FONT, size: 40, weight: 'bold' },
            callback: function (v) { return String(+Number(v).toFixed(3)); }
          }
        }
      }
    },
    plugins: [makeDecor(p)]
  });
}

function drawTitle(ctx) {
  var parts = [['04.04.2019 - points ', '#000'], ['5A (clean)', '#0000c8'], [' and ', '#000'], ['3B (polluted)', RED]];
  ctx.font = 'bold 58.5px ' + FONT;
  ctx.textAlign = 'left';
  ctx.textBaseline = 'alphabetic';
  var total = parts.reduce(function (s, t) { return s + ctx.measureText(t[0]).width; }, 0);
  var x = 959 - total / 2;
  parts.forEach(function (t) {
    ctx.fillStyle = t[1];
    ctx.fillText(t[0], x, 66);
    x += ctx.measureText(t[0]).width;
  });
}

makeChart('c1', {
  name: 'XCO2', clean: co2Clean, polluted: co2Polluted, arrows: co2Arrows,
  yMin: 406, yMax: 408.5, yMajor: co2Major, yMinor: co2Minor,
  top: 84, xHeight: 73, left: 220, xMax: 15.1154, xPad: 38, yPad: 41,
  labelX: 260, labelY: 165, noteX: 1315, noteY: 464,
  legX: 1476, legY: 141, legRed: 176, legBlue: 222, legMk: [1337, 1404, 1471], legTextX: 1495,
  yTitle: 'XCO2, ppmv', yTitleX: 43, yTitleY: 397,
  extra: drawTitle
});

makeChart('c2', {
  name: 'XCH4', clean: ch4Clean, polluted: ch4Polluted, arrows: ch4Arrows,
  yMin: 1.8, yMax: 1.816, yMajor: ch4Major, yMinor: ch4Minor,
  top: 22, xHeight: 79, left: 220, xMax: 15.1154, xPad: 42, yPad: 41,
  labelX: 261, labelY: 112, noteX: 1286, noteY: 452,
  legX: 1466, legY: 92, legRed: 127, legBlue: 173, legMk: [1328, 1395, 1463], legTextX: 1486,
  yTitle: 'XCH4, ppmv', yTitleX: 43, yTitleY: 333
});

makeChart('c3', {
  name: 'XCO', clean: coClean, polluted: coPolluted, arrows: coArrows,
  yMin: 0.108, yMax: 0.128, yMajor: coMajor, yMinor: coMinor,
  top: 22, xHeight: 135, left: 227, xMax: 15.1216, xPad: 44, yPad: 42,
  labelX: 261, labelY: 108, noteX: 1337, noteY: 398,
  legX: 1473, legY: 78, legRed: 113, legBlue: 159, legMk: [1335, 1402, 1468], legTextX: 1491,
  yTitle: 'XCO, ppmv', yTitleX: 50, yTitleY: 327,
  extra: function (ctx) {
    ctx.fillStyle = '#000';
    ctx.font = 'bold 40px ' + FONT;
    ctx.textAlign = 'center';
    ctx.textBaseline = 'alphabetic';
    ctx.fillText('Local time, hours', 1004, 756);
    ctx.fillStyle = '#2323d6';
    ctx.fillRect(0, 761, 1753, 3);
  }
});
</script>
</body>
</html>
